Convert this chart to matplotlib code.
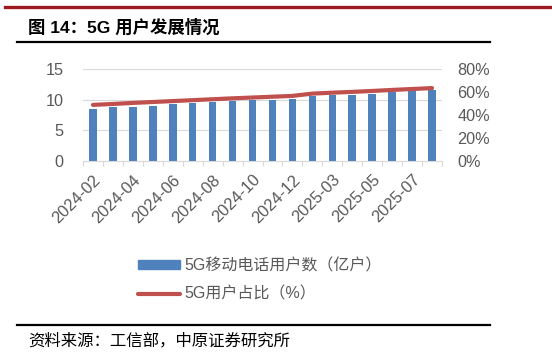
import matplotlib
matplotlib.use('Agg')
import matplotlib.pyplot as plt
from matplotlib.lines import Line2D
from matplotlib.patches import Patch
import numpy as np

# months shown on the chart (2025-01 is merged into 2025-02)
months = ['2024-02', '2024-03', '2024-04', '2024-05', '2024-06', '2024-07',
          '2024-08', '2024-09', '2024-10', '2024-11', '2024-12', '2025-02',
          '2025-03', '2025-04', '2025-05', '2025-06', '2025-07', '2025-08']
# 5G mobile phone users (100 million)
users_5g = [8.51, 8.74, 8.86, 9.03, 9.27, 9.48, 9.66, 9.82, 9.98, 10.02, 10.14, 10.55,
            10.68, 10.81, 11.0, 11.18, 11.35, 11.53]
# 5G share of mobile users (%)
share_5g = [48.8, 49.6, 50.5, 51.3, 52.1, 52.9, 53.7, 54.5, 55.2, 55.9, 56.6, 58.6,
            59.4, 60.1, 60.9, 61.8, 62.6, 63.4]

W, H = 552, 357
GRAY = '#595959'
cjk = ['Liberation Sans', 'Noto Sans CJK SC', 'DejaVu Sans']
plt.rcParams['font.family'] = cjk


def fx(px):
    return px / W


def fy(py):
    return 1 - py / H


fig = plt.figure(figsize=(W / 100, H / 100), dpi=100)

# header / footer decorations
fig.add_artist(Line2D([fx(5), fx(552)], [fy(7), fy(7)], color='#9C1A1F', lw=2.4))
fig.text(fx(28), fy(27), '图 14：5G 用户发展情况', fontsize=12.5, fontweight='bold',
         va='center', ha='left', color='black')
fig.add_artist(Line2D([fx(17), fx(490)], [fy(42), fy(42)], color='black', lw=1.6))
fig.add_artist(Line2D([fx(17), fx(490)], [fy(325), fy(325)], color='black', lw=1.6))
fig.text(fx(28), fy(341), '资料来源：工信部，中原证券研究所', fontsize=11.8,
         va='center', ha='left', color='black')

# plot area
left, right, top, bottom = 83, 442, 69, 161
ax = fig.add_axes([fx(left), fy(bottom), fx(right - left), (bottom - top) / H])
x = np.arange(len(months))
ax.bar(x, users_5g, width=0.38, color='#4F81BD', zorder=2)
ax.set_ylim(0, 15)
ax.set_yticks([0, 5, 10, 15])
ax.set_xlim(-0.5, len(months) - 0.5)
ax.grid(axis='y', color='#D9D9D9', lw=0.8, zorder=0)
for s in ['top', 'right', 'left']:
    ax.spines[s].set_visible(False)
ax.spines['bottom'].set_color('#D9D9D9')
ax.tick_params(axis='y', length=0, pad=14, labelsize=11.7, labelcolor=GRAY)
ax.set_xticks(x[::2])
ax.set_xticklabels(months[::2], rotation=45, ha='right', rotation_mode='anchor')
ax.set_xticks(np.arange(-0.5, len(months)), minor=True)
ax.tick_params(axis='x', which='major', length=0, pad=8, labelsize=11.9, labelcolor=GRAY)
ax.tick_params(axis='x', which='minor', length=3.6, color='#D9D9D9', width=0.8)

ax2 = ax.twinx()
ax2.plot(x, share_5g, color='#C0504D', lw=3, solid_capstyle='round', zorder=3)
ax2.set_ylim(0, 80)
ax2.set_yticks([0, 20, 40, 60, 80])
ax2.set_yticklabels([f'{v}%' for v in [0, 20, 40, 60, 80]])
for s in ax2.spines.values():
    s.set_visible(False)
ax2.tick_params(axis='y', length=0, pad=11, labelsize=11.7, labelcolor=GRAY)

handles = [Patch(color='#4F81BD'),
           Line2D([], [], color='#C0504D', lw=3, solid_capstyle='round')]
labels = ['5G移动电话用户数（亿户）', '5G用户占比（%）']
fig.legend(handles, labels, loc='upper left', bbox_to_anchor=(fx(130), fy(250)),
           frameon=False, fontsize=11.5, labelcolor=GRAY, handlelength=2.6,
           handleheight=0.55, handletextpad=0.3, labelspacing=0.85, borderpad=0)

fig.savefig('out.png', dpi=100)
